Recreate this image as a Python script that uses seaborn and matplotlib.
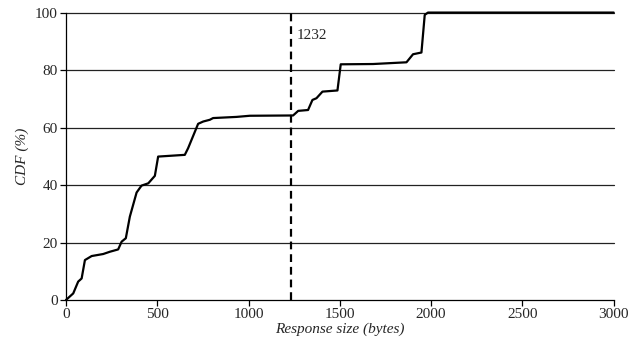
import matplotlib
matplotlib.use("Agg")
import matplotlib.pyplot as plt
import seaborn as sns
import pandas as pd

# response size (bytes) vs cumulative percentage
size_bytes = [0, 40, 67, 86, 104, 141, 204, 241, 286, 305, 328, 350, 387, 414,
              451, 487, 505, 651, 669, 724, 752, 788, 806, 934, 1007, 1244, 1272,
              1326, 1350, 1372, 1405, 1487, 1505, 1682, 1865, 1901, 1947, 1965,
              1983, 3000]
cdf_pct = [0, 2.3, 6.4, 7.5, 13.9, 15.3, 16.0, 16.8, 17.6, 20.3, 21.5, 29.0,
           37.4, 39.8, 40.6, 43.2, 49.9, 50.5, 52.8, 61.3, 62.1, 62.7, 63.3,
           63.7, 64.1, 64.2, 65.8, 66.1, 69.6, 70.2, 72.5, 72.9, 82.0, 82.1,
           82.7, 85.5, 86.1, 99.2, 100, 100]
marker_size = 1232
marker_label = "1232"

x_ticks = [0, 500, 1000, 1500, 2000, 2500, 3000]
y_ticks = [0, 20, 40, 60, 80, 100]

df = pd.DataFrame({"size": size_bytes, "cdf": cdf_pct})

sns.set_style("ticks")
plt.rcParams["font.family"] = ["Liberation Serif", "DejaVu Serif"]

fig = plt.figure(figsize=(6.34, 3.54), dpi=100)
ax = fig.add_axes([0.104, 0.1525, 0.864, 0.812])

for y in y_ticks[1:]:
    ax.axhline(y, color="#222222", lw=0.9, zorder=1)

sns.lineplot(data=df, x="size", y="cdf", ax=ax, color="black", lw=1.6,
             zorder=3, estimator=None, sort=False)
for ln in ax.lines:
    ln.set_clip_on(False)
ax.axvline(marker_size, color="black", lw=1.6, ls=(0, (3.5, 2.2)), zorder=2)
ax.text(marker_size + 30, 92, marker_label, fontsize=11, va="center", ha="left")

ax.set_xlim(0, 3000)
ax.set_ylim(0, 100)
ax.set_xticks(x_ticks)
ax.set_yticks(y_ticks)
ax.tick_params(labelsize=11, length=4, width=0.9, color="black", pad=2)
ax.set_xlabel("Response size (bytes)", fontsize=11, style="italic", labelpad=1)
ax.set_ylabel("CDF (%)", fontsize=11, style="italic", labelpad=4)

sns.despine(ax=ax, top=True, right=True)
for s in ("left", "bottom"):
    ax.spines[s].set_color("black")
    ax.spines[s].set_linewidth(0.9)

fig.savefig("out.png", dpi=100)
